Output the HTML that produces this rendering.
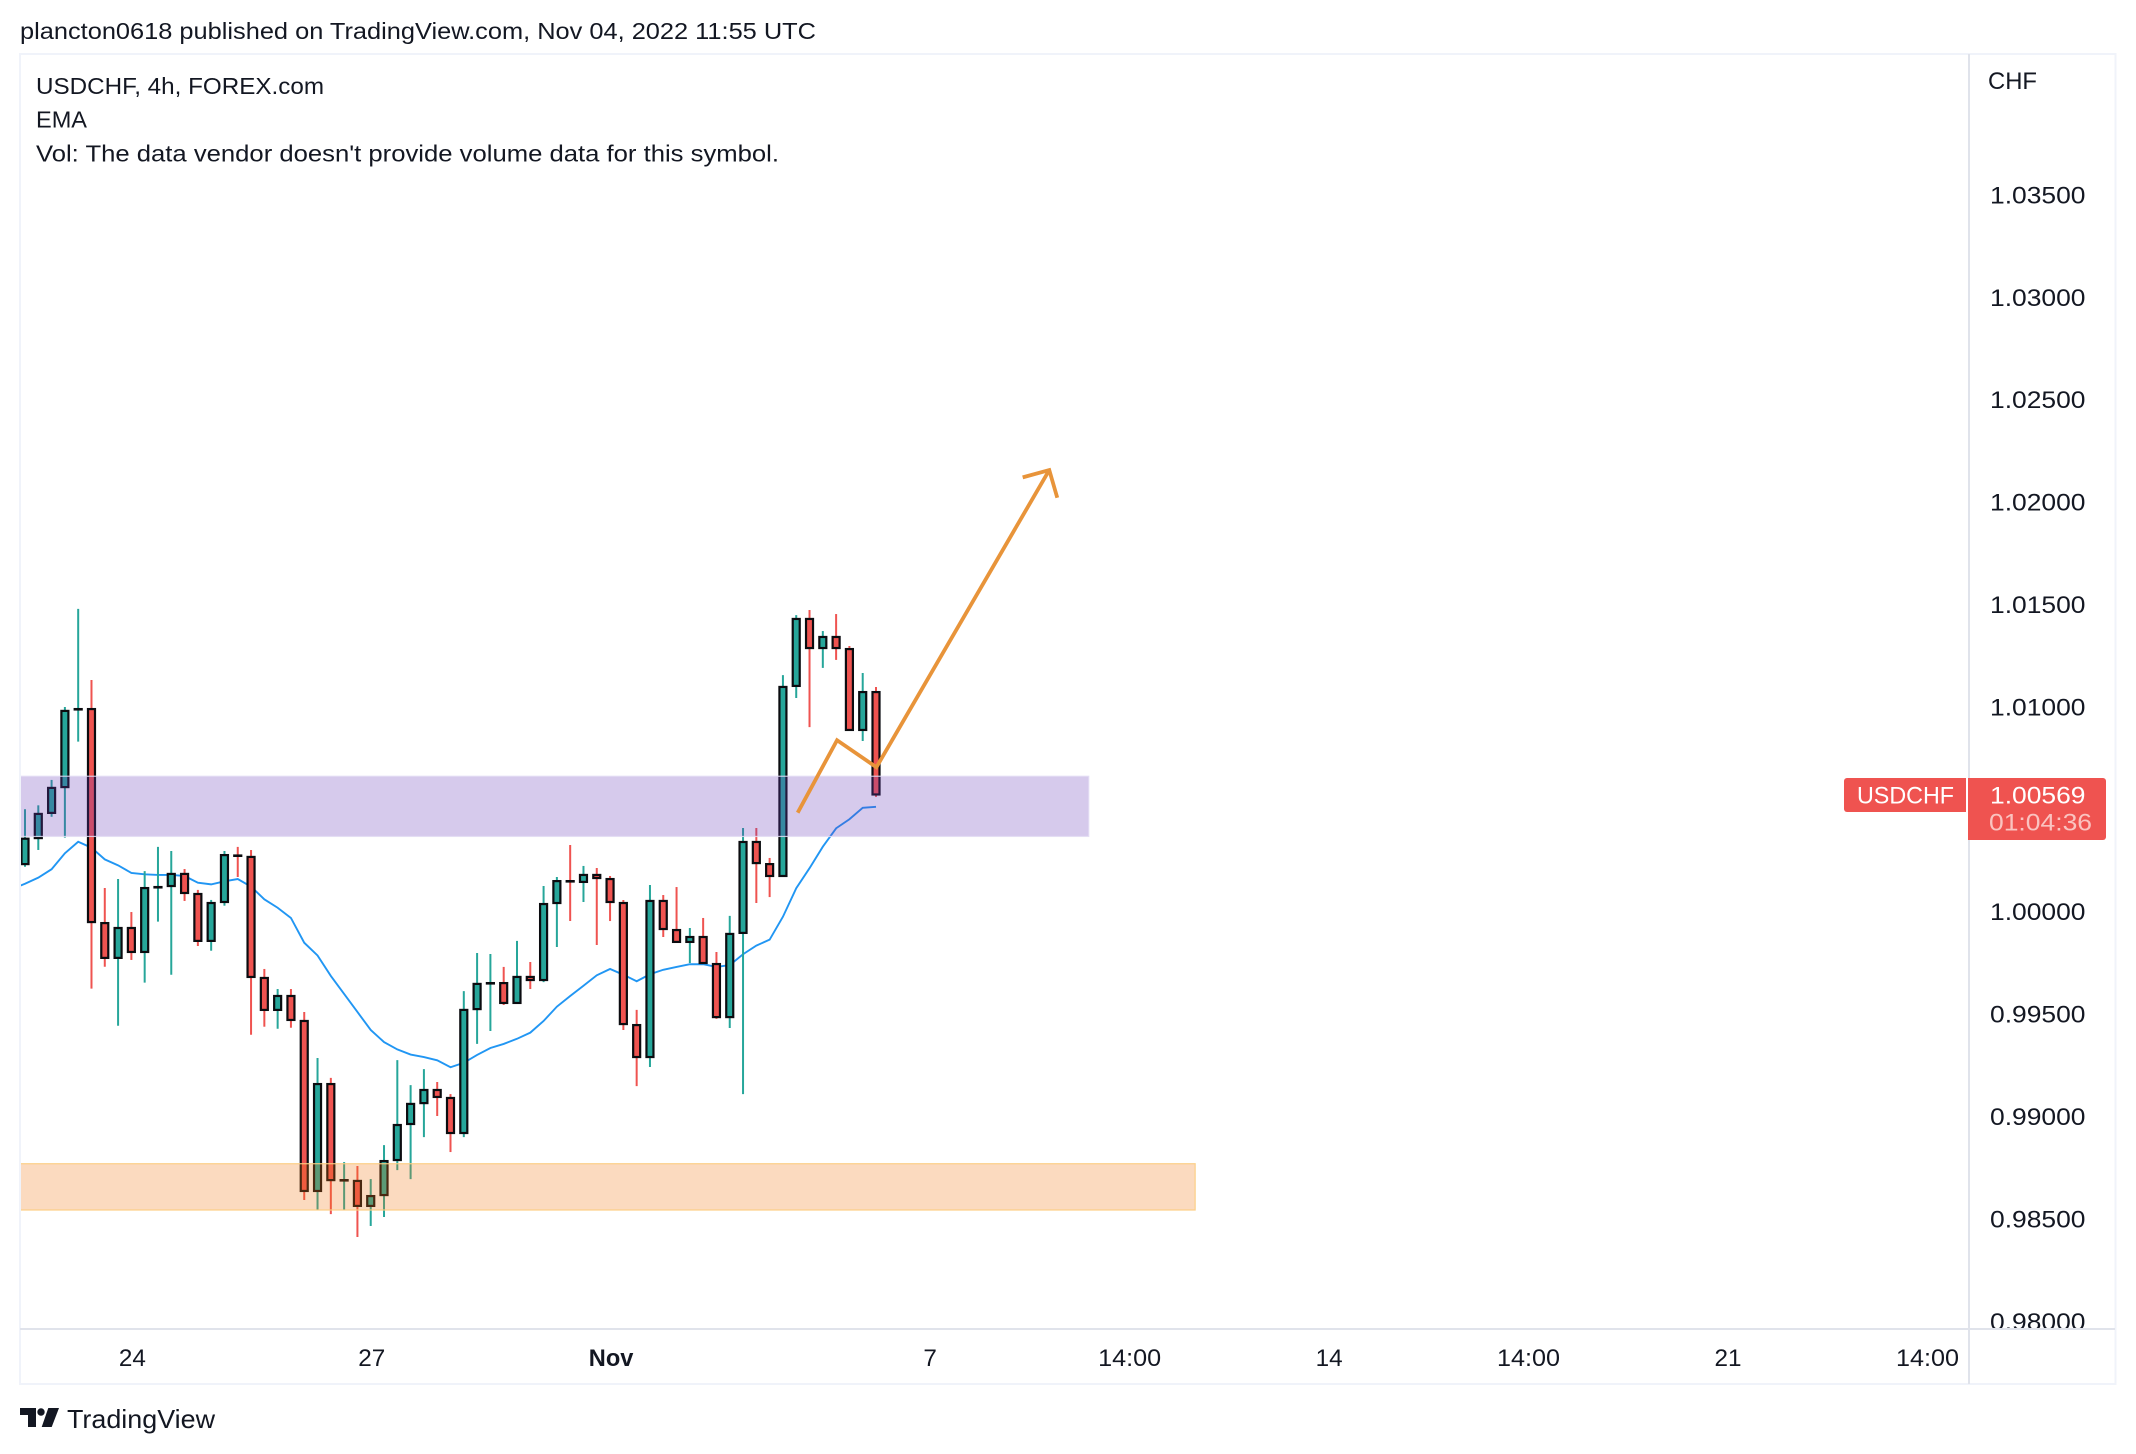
<!DOCTYPE html>
<html lang="en">
<head>
<meta charset="utf-8">
<title>USDCHF 4h chart</title>
<style>
html,body{margin:0;padding:0;background:#fff;width:2136px;height:1454px;overflow:hidden}
svg{display:block}
text{font-family:"Liberation Sans",sans-serif;fill:#131722}
</style>
</head>
<body>
<svg id="chart" xmlns="http://www.w3.org/2000/svg" width="2136" height="1454" viewBox="0 0 2136 1454">
  <defs>
    <clipPath id="pane-clip"><rect x="21" y="54" width="1947" height="1274"/></clipPath>
    <clipPath id="price-clip"><rect x="1970" y="54" width="145" height="1274"/></clipPath>
  </defs>
  <text x="20" y="39" font-size="23" textLength="796" lengthAdjust="spacingAndGlyphs">plancton0618 published on TradingView.com, Nov 04, 2022 11:55 UTC</text>

  <g id="pane" clip-path="url(#pane-clip)">
    <g id="ema-layer"></g>
    <g id="candle-layer"></g>
    <g id="zone-layer"></g>
    <g id="drawing-layer"></g>
  </g>

  <rect x="20" y="54" width="2095.5" height="1330" fill="none" stroke="#f0f3fa" stroke-width="2"/>
  <line x1="1969" y1="54" x2="1969" y2="1384" stroke="#e0e3eb" stroke-width="2"/>
  <line x1="20" y1="1329" x2="2115" y2="1329" stroke="#e0e3eb" stroke-width="2"/>

  <text x="36" y="94" font-size="23" textLength="288" lengthAdjust="spacingAndGlyphs">USDCHF, 4h, FOREX.com</text>
  <text x="36" y="127.5" font-size="23" textLength="51" lengthAdjust="spacingAndGlyphs">EMA</text>
  <text x="36" y="161.5" font-size="23" textLength="743" lengthAdjust="spacingAndGlyphs">Vol: The data vendor doesn't provide volume data for this symbol.</text>

  <text x="1988" y="89" font-size="24" textLength="49" lengthAdjust="spacingAndGlyphs">CHF</text>
  <g id="price-ticks" clip-path="url(#price-clip)"></g>
  <g id="time-ticks"></g>

  <path d="M1847 778H1966V812H1847a3 3 0 0 1-3-3V781a3 3 0 0 1 3-3Z" fill="#ef5350"/>
  <text x="1857" y="803.5" font-size="24" textLength="97" lengthAdjust="spacingAndGlyphs" style="fill:#fff">USDCHF</text>
  <path d="M1968 778H2103a3 3 0 0 1 3 3V837a3 3 0 0 1-3 3H1968Z" fill="#ef5350"/>
  <text x="1990" y="803.5" font-size="24" textLength="95.5" lengthAdjust="spacingAndGlyphs" style="fill:#fff">1.00569</text>
  <text x="1989" y="830.5" font-size="24" textLength="103" lengthAdjust="spacingAndGlyphs" style="fill:#fac3c0">01:04:36</text>

  <g>
    <path d="M20 1408H36V1427H28V1415H20Z" fill="#131722"/>
    <circle cx="41" cy="1412" r="3.7" fill="#131722"/>
    <path d="M48.3 1408H59L51.7 1427H41.7Z" fill="#131722"/>
    <text x="67" y="1428" font-size="26" textLength="148" lengthAdjust="spacingAndGlyphs">TradingView</text>
  </g>
</svg>

<script>
// Chart data
const opens = [1.00229,1.00356,1.00479,1.00605,1.00984,1.00986,0.99941,0.99771,0.99917,0.99800,1.00115,1.00122,1.00181,1.00083,0.99854,1.00044,1.00271,1.00264,0.99673,0.99517,0.99585,0.99463,0.98633,0.99155,0.98684,0.98682,0.98560,0.98613,0.98784,0.98960,0.99062,0.99126,0.99087,0.98916,0.99521,0.99646,0.99648,0.99551,0.99678,0.99663,1.00039,1.00146,1.00142,1.00176,1.00156,1.00039,0.99443,0.99287,1.00049,0.99907,0.99849,0.99873,0.99741,0.99482,0.99893,1.00337,1.00229,1.00171,1.01099,1.01426,1.01284,1.01338,1.01279,1.00884,1.01069];
const highs = [1.00497,1.00516,1.00640,1.00996,1.01475,1.01128,1.00112,1.00156,0.99995,1.00195,1.00313,1.00293,1.00205,1.00103,1.00054,1.00293,1.00313,1.00298,0.99717,0.99619,0.99619,0.99507,0.99282,0.99185,0.98774,0.98755,0.98691,0.98857,0.99272,0.99150,0.99228,0.99165,0.99106,0.99609,0.99795,0.99790,0.99727,0.99854,0.99751,1.00122,1.00166,1.00322,1.00220,1.00210,1.00171,1.00054,0.99517,1.00127,1.00078,1.00117,0.99917,0.99966,0.99800,0.99976,1.00405,1.00405,1.00259,1.01152,1.01445,1.01470,1.01367,1.01450,1.01294,1.01162,1.01094];
const lows = [1.00216,1.00298,1.00460,1.00358,1.00827,0.99621,0.99728,0.99440,0.99761,0.99650,0.99948,0.99689,1.00049,0.99829,0.99806,1.00026,1.00166,0.99396,0.99435,0.99425,0.99430,0.98589,0.98540,0.98520,0.98540,0.98408,0.98462,0.98506,0.98735,0.98691,0.98896,0.98999,0.98823,0.98896,0.99351,0.99414,0.99541,0.99551,0.99619,0.99653,0.99824,0.99951,1.00044,0.99834,0.99951,0.99419,0.99145,0.99238,0.99873,0.99849,0.99746,0.99746,0.99473,0.99429,0.99106,1.00039,1.00068,1.00171,1.01040,1.00898,1.01187,1.01226,1.00884,1.00830,1.00557];
const closes = [1.00353,1.00474,1.00601,1.00977,1.00986,0.99946,0.99771,0.99917,0.99800,1.00112,1.00117,1.00181,1.00088,0.99854,1.00039,1.00273,1.00269,0.99678,0.99517,0.99585,0.99468,0.98633,0.99155,0.98686,0.98686,0.98560,0.98608,0.98779,0.98955,0.99058,0.99126,0.99092,0.98916,0.99517,0.99644,0.99648,0.99551,0.99678,0.99663,1.00034,1.00146,1.00144,1.00176,1.00161,1.00044,0.99448,0.99287,1.00049,0.99912,0.99849,0.99873,0.99746,0.99482,0.99888,1.00337,1.00234,1.00171,1.01094,1.01426,1.01284,1.01338,1.01284,1.00884,1.01069,1.00569];
// EMA begins one bar before the first visible candle
const emaValues = [1.00107,1.00133,1.00163,1.00204,1.00282,1.00338,1.00309,1.00252,1.00223,1.00186,1.00179,1.00176,1.00176,1.00171,1.00138,1.00130,1.00145,1.00156,1.00119,1.00057,1.00016,0.99966,0.99845,0.99783,0.99683,0.99595,0.99507,0.99419,0.99360,0.99324,0.99299,0.99287,0.99271,0.99237,0.99259,0.99297,0.99331,0.99351,0.99376,0.99406,0.99463,0.99533,0.99585,0.99635,0.99686,0.99717,0.99689,0.99657,0.99691,0.99713,0.99727,0.99740,0.99740,0.99727,0.99736,0.99789,0.99831,0.99860,0.99972,1.00111,1.00209,1.00314,1.00404,1.00448,1.00504,1.00509];
const priceTicks = ["1.03500","1.03000","1.02500","1.02000","1.01500","1.01000","1.00500","1.00000","0.99500","0.99000","0.98500","0.98000"];
const timeTickBars = [8,26,44,68,83,98,113,128,143];
const timeTickLabels = ["24","27","Nov","7","14:00","14","14:00","21","14:00"];
const purpleZonePrices = [1.00658,1.00364];
const purpleZoneEndBar = 80;
const orangeZonePrices = [0.98766,0.98540];
const orangeZoneEndBar = 88;
const pathBars = [58.11,61.07,64.03,77.03];
const pathPrices = [1.00480,1.00834,1.00702,1.02153];

// Axis functions
const x = i => 25 + 13.297 * i;
const y = p => 911 + (1 - p) * 20480;

const NS = 'http://www.w3.org/2000/svg';
const TEAL = '#26a69a', RED = '#ef5350';
const make = tag => document.createElementNS(NS, tag);

// EMA
const emaLayer = document.getElementById('ema-layer');
const emaLine = make('polyline');


emaLine.setAttribute('fill', 'none');
emaLine.setAttribute('stroke', '#2196f3');
emaLine.setAttribute('stroke-width', '1.9');
emaLine.setAttribute('points', emaValues.map((v, i) => x(i - 1).toFixed(2) + ',' + y(v).toFixed(2)).join(' '));
emaLayer.appendChild(emaLine);

// Candles
const candleLayer = document.getElementById('candle-layer');
opens.forEach((open, i) => {
  const close = closes[i];
  const color = close >= open ? TEAL : RED;
  const wick = make('line');
  
  
  wick.setAttribute('x1', x(i));
  wick.setAttribute('x2', x(i));
  wick.setAttribute('y1', y(highs[i]));
  wick.setAttribute('y2', y(lows[i]));
  wick.setAttribute('stroke', color);
  wick.setAttribute('stroke-width', '2');
  candleLayer.appendChild(wick);
  const body = make('rect');
  
  
  const top = Math.min(y(open), y(close));
  const h = Math.abs(y(open) - y(close));
  body.setAttribute('x', x(i) - 3.5);
  body.setAttribute('y', top);
  body.setAttribute('width', 7);
  body.setAttribute('height', h);
  body.setAttribute('fill', color);
  body.setAttribute('stroke', '#0b0c10');
  body.setAttribute('stroke-width', '2.2');
  candleLayer.appendChild(body);
});

// Zones
const zoneLayer = document.getElementById('zone-layer');
const purpleZone = make('rect');


purpleZone.setAttribute('x', 20);
purpleZone.setAttribute('y', y(purpleZonePrices[0]));
purpleZone.setAttribute('width', x(purpleZoneEndBar) - 20);
purpleZone.setAttribute('height', y(purpleZonePrices[1]) - y(purpleZonePrices[0]));
purpleZone.setAttribute('fill', 'rgba(103,58,183,0.27)');
purpleZone.setAttribute('stroke', 'rgba(226,220,243,0.85)');
purpleZone.setAttribute('stroke-width', '1.2');
zoneLayer.appendChild(purpleZone);
const orangeZone = make('rect');


orangeZone.setAttribute('x', 20);
orangeZone.setAttribute('y', y(orangeZonePrices[0]));
orangeZone.setAttribute('width', x(orangeZoneEndBar) - 20);
orangeZone.setAttribute('height', y(orangeZonePrices[1]) - y(orangeZonePrices[0]));
orangeZone.setAttribute('fill', 'rgba(240,120,20,0.27)');
orangeZone.setAttribute('stroke', 'rgba(252,205,130,0.95)');
orangeZone.setAttribute('stroke-width', '1.2');
zoneLayer.appendChild(orangeZone);

// Projection path + arrow head
const drawingLayer = document.getElementById('drawing-layer');
const projection = make('polyline');


projection.setAttribute('fill', 'none');
projection.setAttribute('stroke', '#e8943a');
projection.setAttribute('stroke-width', '3.8');
projection.setAttribute('stroke-linejoin', 'miter');
projection.setAttribute('points', pathBars.map((b, i) => x(b).toFixed(2) + ',' + y(pathPrices[i]).toFixed(2)).join(' '));
drawingLayer.appendChild(projection);
const tipX = x(pathBars[pathBars.length - 1]);
const tipY = y(pathPrices[pathPrices.length - 1]);
const head = make('polyline');


head.setAttribute('fill', 'none');
head.setAttribute('stroke', '#e8943a');
head.setAttribute('stroke-width', '3.8');
head.setAttribute('points', (tipX - 26.6) + ',' + (tipY + 7.3) + ' ' + tipX + ',' + tipY + ' ' + (tipX + 8) + ',' + (tipY + 27.7));
drawingLayer.appendChild(head);

// Axis labels
const priceGroup = document.getElementById('price-ticks');
priceTicks.forEach(label => {
  const t = make('text');
  
  
  t.setAttribute('x', 1990);
  t.setAttribute('y', y(parseFloat(label)) + 9.2);
  t.setAttribute('font-size', '24');
  t.setAttribute('textLength', '95.5');
  t.setAttribute('lengthAdjust', 'spacingAndGlyphs');
  t.textContent = label;
  priceGroup.appendChild(t);
});
const timeGroup = document.getElementById('time-ticks');
timeTickLabels.forEach((label, i) => {
  const t = make('text');
  
  
  const bold = label === 'Nov';
  const w = bold ? 44.6 : label.replace(':', '').length * 13.5 + (label.includes(':') ? 9 : 0);
  t.setAttribute('x', x(timeTickBars[i]) - w / 2 + 1);
  t.setAttribute('y', 1366);
  t.setAttribute('font-size', '24');
  if (bold) t.setAttribute('font-weight', '700');
  t.setAttribute('textLength', w);
  t.setAttribute('lengthAdjust', 'spacingAndGlyphs');
  t.textContent = label;
  timeGroup.appendChild(t);
});
</script>
</body>
</html>
